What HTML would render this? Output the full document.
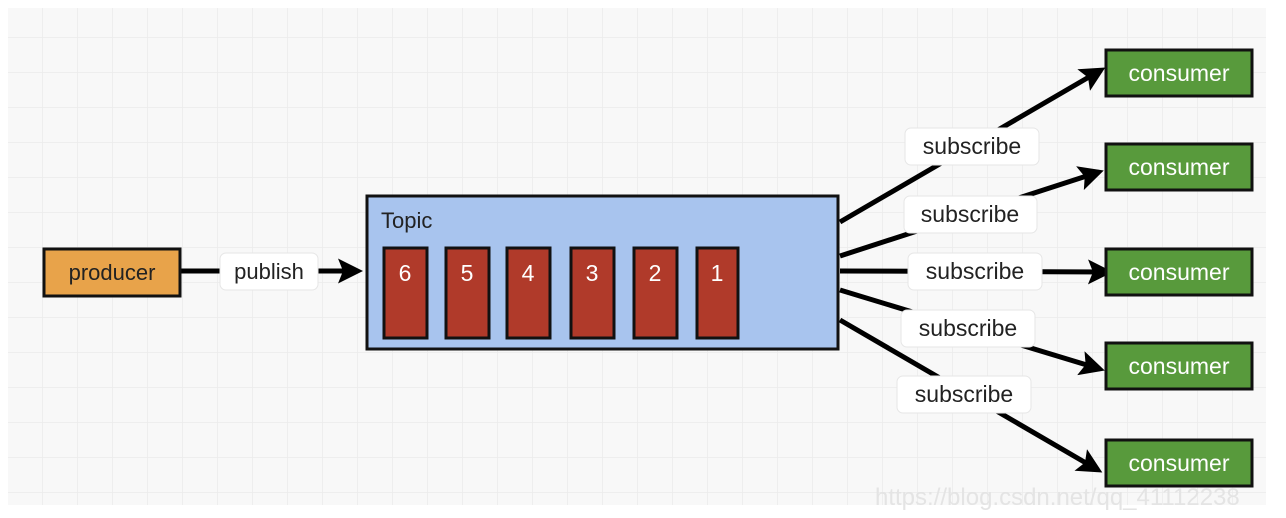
<!DOCTYPE html>
<html><head><meta charset="utf-8"><style>
html,body{margin:0;padding:0;background:#fff;width:1286px;height:518px;overflow:hidden}
svg{display:block}
text{font-family:"Liberation Sans",sans-serif}
</style></head><body>
<svg width="1286" height="518" viewBox="0 0 1286 518" xmlns="http://www.w3.org/2000/svg">
<defs>
<pattern id="g" x="7" y="2" width="35" height="35" patternUnits="userSpaceOnUse">
<rect width="35" height="35" fill="#f8f8f8"/>
<path d="M0 0H35M0 0V35" stroke="#ebebeb" stroke-width="1.5" fill="none"/>
</pattern>
<marker id="a" viewBox="0 0 10 10" refX="8" refY="5" markerWidth="5" markerHeight="5" orient="auto" markerUnits="strokeWidth">
<path d="M0 0L10 5L0 10L2 5Z" fill="#000"/>
</marker>
</defs>
<rect x="8" y="8" width="1258" height="497" fill="url(#g)"/>
<text x="875" y="505" font-size="24" fill="#e4e4e4">https://blog.csdn.net/qq_41112238</text>

<g stroke="#000" stroke-width="5" fill="none" marker-end="url(#a)">
<line x1="180" y1="271" x2="358" y2="271"/>
<line x1="840" y1="222" x2="1101" y2="70"/>
<line x1="840" y1="256" x2="1099" y2="172"/>
<line x1="840" y1="271" x2="1108" y2="272"/>
<line x1="840" y1="290" x2="1100" y2="369"/>
<line x1="840" y1="320" x2="1098" y2="470"/>
</g>

<rect x="44" y="249" width="136" height="47" fill="#e8a34a" stroke="#111" stroke-width="3"/>
<text x="112" y="280" font-size="22" fill="#222" text-anchor="middle">producer</text>

<rect x="220" y="253" width="98" height="37" rx="6" fill="#fff" stroke="#e6e6e6"/>
<text x="269" y="279" font-size="22" fill="#222" text-anchor="middle">publish</text>

<rect x="367" y="196" width="471" height="153" fill="#a8c4ee" stroke="#111" stroke-width="3"/>
<text x="381" y="228" font-size="22" fill="#222">Topic</text>

<g fill="#b03a2a" stroke="#111" stroke-width="3">
<rect x="384" y="248" width="43" height="90"/>
<rect x="446" y="248" width="43" height="90"/>
<rect x="507" y="248" width="43" height="90"/>
<rect x="571" y="248" width="43" height="90"/>
<rect x="634" y="248" width="43" height="90"/>
<rect x="697" y="248" width="41" height="90"/>
</g>
<g font-size="23" fill="#fff" text-anchor="middle">
<text x="405" y="281">6</text><text x="467" y="281">5</text><text x="528" y="281">4</text>
<text x="592" y="281">3</text><text x="655" y="281">2</text><text x="717" y="281">1</text>
</g>

<g fill="#fff" stroke="#e6e6e6">
<rect x="905" y="128" width="134" height="37" rx="6"/>
<rect x="904" y="196" width="133" height="37" rx="6"/>
<rect x="908" y="253" width="134" height="37" rx="6"/>
<rect x="901" y="310" width="134" height="37" rx="6"/>
<rect x="897" y="376" width="134" height="37" rx="6"/>
</g>
<g font-size="23" fill="#222" text-anchor="middle">
<text x="972" y="154">subscribe</text>
<text x="970" y="222">subscribe</text>
<text x="975" y="279">subscribe</text>
<text x="968" y="336">subscribe</text>
<text x="964" y="402">subscribe</text>
</g>

<g fill="#589a3c" stroke="#111" stroke-width="3">
<rect x="1106" y="50" width="146" height="46"/>
<rect x="1106" y="144" width="146" height="46"/>
<rect x="1106" y="249" width="146" height="46"/>
<rect x="1106" y="343" width="146" height="46"/>
<rect x="1106" y="440" width="146" height="46"/>
</g>
<g font-size="23" fill="#fff" text-anchor="middle">
<text x="1179" y="81">consumer</text>
<text x="1179" y="175">consumer</text>
<text x="1179" y="280">consumer</text>
<text x="1179" y="374">consumer</text>
<text x="1179" y="471">consumer</text>
</g>
</svg>
</body></html>
